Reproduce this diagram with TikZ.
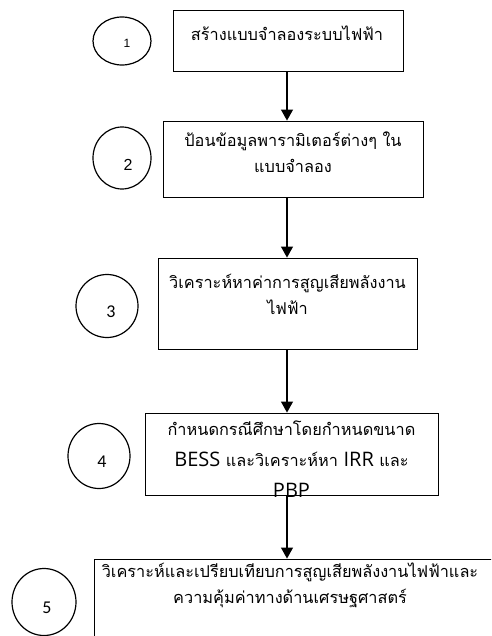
\documentclass[tikz,border=0pt]{standalone}
\usepackage{fontspec}
\usepackage{tikz}
\usetikzlibrary{arrows.meta}
\usetikzlibrary{shapes.geometric}
\newfontfamily\thaifont[Script=Thai]{Loma}
\newfontfamily\latinfont{Open Sans}
\newfontfamily\numfont{Carlito}
\newfontfamily\arialfont{Liberation Sans}

\begin{document}
\begin{tikzpicture}[x=1pt, y=-1pt,
	stepbox/.style={draw, line width=0.9pt, inner sep=0pt},
	stepnum/.style={draw, ellipse, line width=1.2pt, inner sep=0pt},
	steptext/.style={font=\thaifont\fontsize{16.3}{26}\selectfont, align=center, inner sep=0pt},
	flow/.style={line width=1.2pt, -{Triangle[width=12pt, length=11pt]}}]
	\useasboundingbox (0,0) rectangle (491,636);
	\clip (0,0) rectangle (491,636);
	\node[stepbox, minimum width=230pt, minimum height=61pt] (b1) at (288,40.5) {};
	\node[stepbox, minimum width=260pt, minimum height=76pt] (b2) at (293,159) {};
	\node[stepbox, minimum width=259pt, minimum height=91pt] (b3) at (287.5,303.5) {};
	\node[stepbox, minimum width=293pt, minimum height=82pt] (b4) at (291.5,454) {};
	\node[stepbox, minimum width=426pt, minimum height=121pt] (b5) at (307,619.5) {};
	\node[steptext] (t1) at (287,33) {สร้างแบบจำลองระบบไฟฟ้า};
	\node[steptext] (t2) at (293,152) {ป้อนข้อมูลพารามิเตอร์ต่างๆ ใน\\แบบจำลอง};
	\node[steptext] (t3) at (287.5,294) {วิเคราะห์หาค่าการสูญเสียพลังงาน\\ไฟฟ้า};
	\node[steptext, font=\thaifont\fontsize{16.3}{31}\selectfont] (t4) at (291.5,459) {กำหนดกรณีศึกษาโดยกำหนดขนาด\\{\latinfont\fontsize{20}{31}\selectfont BESS} และวิเคราะห์หา {\latinfont\fontsize{20}{31}\selectfont IRR} และ\\{\latinfont\fontsize{20}{31}\selectfont PBP}};
	\node[steptext] (t5) at (290,585) {วิเคราะห์และเปรียบเทียบการสูญเสียพลังงานไฟฟ้าและ\\ความคุ้มค่าทางด้านเศรษฐศาสตร์};
	\node[stepnum, minimum width=58pt, minimum height=48pt] (c1) at (122,41) {};
	\node[stepnum, minimum width=58pt, minimum height=62pt] (c2) at (122,158) {};
	\node[stepnum, minimum width=62pt, minimum height=63pt] (c3) at (107,306) {};
	\node[stepnum, minimum width=62pt, minimum height=65pt] (c4) at (99,456) {};
	\node[stepnum, minimum width=64pt, minimum height=67pt] (c5) at (44,602) {};
	\node[font=\arialfont\fontsize{12}{14}\selectfont] (n1) at (127,43) {1};
	\node[font=\arialfont\fontsize{16}{18}\selectfont] (n2) at (128,165) {2};
	\node[font=\numfont\fontsize{18}{20}\selectfont] (n3) at (111,312) {3};
	\node[font=\numfont\fontsize{18}{20}\selectfont] (n4) at (102,462) {4};
	\node[font=\numfont\fontsize{18}{20}\selectfont] (n5) at (47,608) {5};
	\coordinate (axis) at (287,0);
	\draw[flow] (b1.south -| axis) -- (b2.north -| axis);
	\draw[flow] (b2.south -| axis) -- (b3.north -| axis);
	\draw[flow] (b3.south -| axis) -- (b4.north -| axis);
	\draw[flow] (b4.south -| axis) -- (b5.north -| axis);
\end{tikzpicture}
\end{document}
